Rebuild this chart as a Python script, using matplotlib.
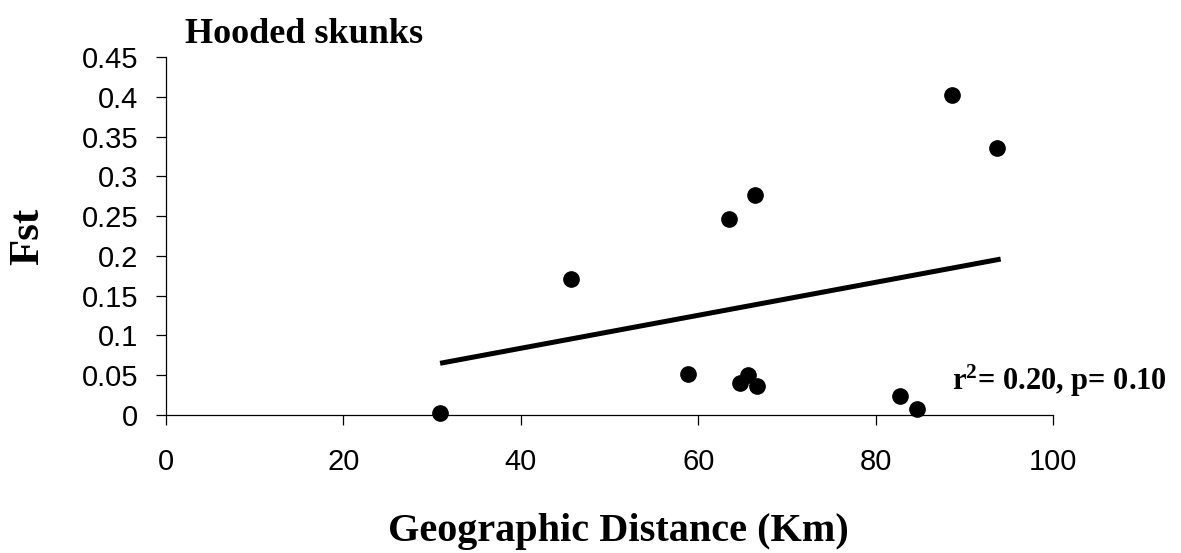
import matplotlib
matplotlib.use("Agg")
import matplotlib.pyplot as plt

# ---- data ----
distance_km = [30.9, 45.7, 58.8, 63.5, 64.7, 65.6, 66.4, 66.6, 82.7, 84.7, 88.6, 93.7]
fst = [0.003, 0.171, 0.052, 0.246, 0.040, 0.050, 0.277, 0.036, 0.024, 0.008, 0.402, 0.336]
trend_x = [30.9, 94.1]
trend_y = [0.065, 0.196]
x_ticks = [0, 20, 40, 60, 80, 100]
x_tick_labels = ["0", "20", "40", "60", "80", "100"]
y_ticks = [0, 0.05, 0.1, 0.15, 0.2, 0.25, 0.3, 0.35, 0.4, 0.45]
y_tick_labels = ["0", "0.05", "0.1", "0.15", "0.2", "0.25", "0.3", "0.35", "0.4", "0.45"]
title_text = "Hooded skunks"
x_label = "Geographic Distance (Km)"
y_label = "Fst"
stats_text = r"r$^2$= 0.20, p= 0.10"

plt.rcParams["mathtext.fontset"] = "custom"
plt.rcParams["mathtext.rm"] = "Liberation Serif:bold"
plt.rcParams["mathtext.bf"] = "Liberation Serif:bold"
plt.rcParams["mathtext.it"] = "Liberation Serif:bold"

W, H = 1181, 553
fig = plt.figure(figsize=(W / 100, H / 100), dpi=100)
ax = fig.add_axes([166 / W, 1 - 415 / H, (1053 - 166) / W, (415 - 57) / H])

ax.scatter(distance_km, fst, s=11 ** 2, color="black", zorder=3, clip_on=False)
ax.plot(trend_x, trend_y, color="black", linewidth=3.6, solid_capstyle="butt", zorder=2)

ax.set_xlim(0, 100)
ax.set_ylim(0, 0.45)
ax.set_xticks(x_ticks)
ax.set_xticklabels(x_tick_labels, fontfamily="Liberation Sans", fontsize=21)
ax.set_yticks(y_ticks)
ax.set_yticklabels(y_tick_labels, fontfamily="Liberation Sans", fontsize=21)

for side in ["top", "right"]:
    ax.spines[side].set_visible(False)
for side in ["left", "bottom"]:
    ax.spines[side].set_linewidth(0.9)
ax.tick_params(axis="both", direction="out", length=7.5, width=0.9, colors="black")
ax.tick_params(axis="x", pad=16)
ax.tick_params(axis="y", pad=12.5)

ax.text(88.6, 0.031, stats_text, fontfamily="Liberation Serif", fontweight="bold",
        fontsize=22, ha="left", va="baseline", clip_on=False)

fig.text(185 / W, 1 - 43 / H, title_text, fontfamily="Liberation Serif",
         fontweight="bold", fontsize=26, ha="left", va="baseline")
fig.text(618 / W, 1 - 541 / H, x_label, fontfamily="Liberation Serif",
         fontweight="bold", fontsize=29, ha="center", va="baseline")
fig.text(28 / W, 1 - 236 / H, y_label, fontfamily="Liberation Serif",
         fontweight="bold", fontsize=31, ha="center", va="center", rotation=90)

fig.savefig("out.png", dpi=100, facecolor="white")
